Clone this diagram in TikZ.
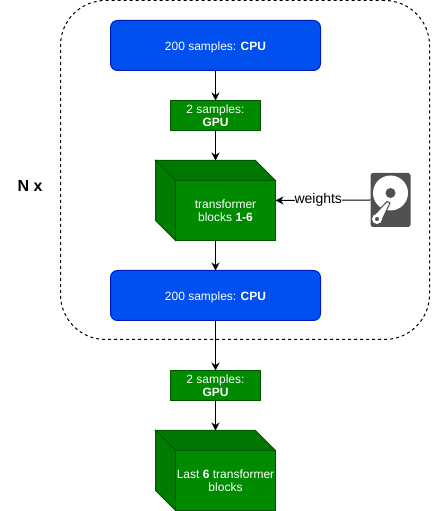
\documentclass[tikz,border=0pt]{standalone}
\usepackage{fontspec}
\setmainfont{Liberation Sans}
\usepackage{xcolor}
\usetikzlibrary{arrows.meta,positioning}
\definecolor{cpufill}{HTML}{0050EF}
\definecolor{cpuline}{HTML}{001DBC}
\definecolor{gpufill}{HTML}{008A00}
\definecolor{gpuline}{HTML}{005700}
\definecolor{disklike}{HTML}{505050}
\newcommand{\cubesides}[1]{
  \filldraw[line width=1pt,gpuline,fill=gpufill!86!black] (#1.north west) -- ([xshift=-20pt]#1.north east)
    -- ([yshift=-20pt]#1.north east) -- ([xshift=20pt,yshift=-20pt]#1.north west) -- cycle;
  \filldraw[line width=1pt,gpuline,fill=gpufill!90!black] (#1.north west) -- ([xshift=20pt,yshift=-20pt]#1.north west)
    -- ([xshift=20pt]#1.south west) -- ([yshift=20pt]#1.south west) -- cycle;
}
\begin{document}
\begin{tikzpicture}[x=1pt,y=1pt,
  node distance=30pt,
  >={Stealth[length=8pt,width=8pt]},
  txt/.style={line width=1pt,font=\fontsize{12}{13.5}\selectfont,text=white,align=center,outer sep=0pt,inner sep=0pt,
    execute at begin node={\rule{0pt}{10pt}}},
  cpubox/.style={txt,draw=cpuline,fill=cpufill,rounded corners=7pt,minimum width=210pt,minimum height=50pt,
    execute at begin node={\rule{0pt}{11.6pt}}},
  gpubox/.style={txt,draw=gpuline,fill=gpufill,minimum width=90pt,minimum height=30pt},
  cubebox/.style={outer sep=0pt,inner sep=0pt,minimum width=120pt,minimum height=80pt},
  frontbox/.style={txt,draw=gpuline,fill=gpufill,minimum width=100pt,minimum height=60pt},
  arr/.style={->,black,line width=1pt},
  loopbox/.style={draw,line width=1pt,dash pattern=on 3pt off 3pt,rounded corners=45pt,minimum width=369pt,minimum height=339pt,outer sep=0pt}
]
\useasboundingbox (0,0) rectangle (431,511);
\node[loopbox] (loop) at (245,341) {};
\node[cpubox] (cpua) at (215.5,465.5) {200 samples: \textbf{CPU}};
\node[gpubox,below=of cpua] (gpua) {2 samples:\\\textbf{GPU}};
\node[cubebox,below=of gpua] (cubea) {};
\node[cpubox,below=of cubea] (cpub) {200 samples: \textbf{CPU}};
\node[gpubox,below=50pt of cpub] (gpub) {2 samples:\\\textbf{GPU}};
\node[cubebox,below=of gpub] (cubeb) {};
\cubesides{cubea}
\cubesides{cubeb}
\node[frontbox,anchor=south east] (fronta) at (cubea.south east) {transformer\\blocks \textbf{1-6}};
\node[frontbox,anchor=south east] (frontb) at (cubeb.south east) {Last \textbf{6} transformer\\blocks};
\node[font=\fontsize{16}{18}\selectfont\bfseries] (times) at (30,325) {N x};
\node[fill=disklike,rounded corners=2.5pt,minimum width=40pt,minimum height=54pt,inner sep=0pt,outer sep=0pt] (disk) at (390.5,311) {};
% platter, hub and arm
\begin{scope}[shift={(disk.center)}]
  \fill[white] (0,7) circle (17.5);
  \fill[disklike] (0,7) circle (5);
  \filldraw[white,draw=disklike,line width=1pt] (-3.5,-1.5) -- (-0.5,-3) -- (-9,-21) -- (-18,-17) -- cycle;
  \fill[white] (-13.5,-19) circle (5);
  \fill[disklike] (-13.5,-19) circle (2);
\end{scope}
\draw[arr] (cpua) -- (gpua);
\draw[arr] (gpua) -- (cubea);
\draw[arr] (cubea) -- (cpub);
\draw[arr] (cpub) -- (gpub);
\draw[arr] (gpub) -- (cubeb);
\draw[arr] (disk.west) -- node[pos=.55,fill=white,inner sep=0pt,font=\fontsize{14}{16}\selectfont] (wlabel) {weights} (cubea.east);
\end{tikzpicture}
\end{document}
